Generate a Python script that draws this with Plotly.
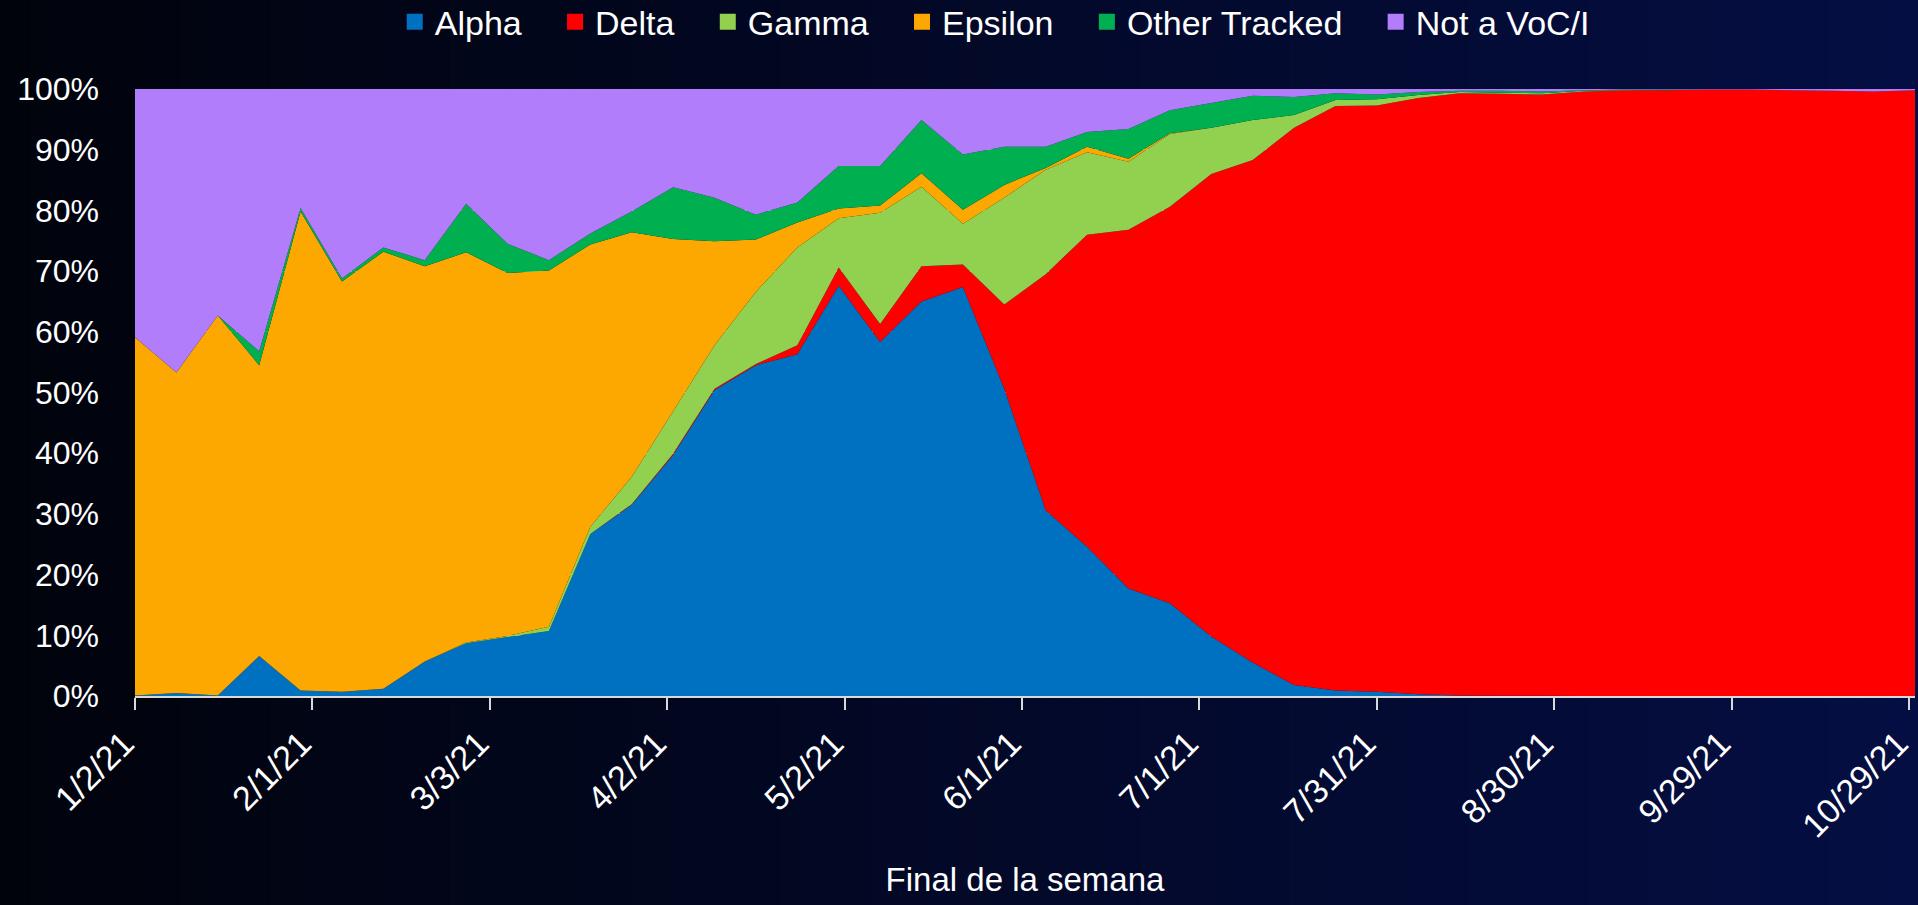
import plotly.graph_objects as go
import pandas as pd

# ---- data (percent of sequences, week ending) ----
weeks = ["2021-01-02", "2021-01-09", "2021-01-16", "2021-01-23", "2021-01-30",
         "2021-02-06", "2021-02-13", "2021-02-20", "2021-02-27", "2021-03-06",
         "2021-03-13", "2021-03-20", "2021-03-27", "2021-04-03", "2021-04-10",
         "2021-04-17", "2021-04-24", "2021-05-01", "2021-05-08", "2021-05-15",
         "2021-05-22", "2021-05-29", "2021-06-05", "2021-06-12", "2021-06-19",
         "2021-06-26", "2021-07-03", "2021-07-10", "2021-07-17", "2021-07-24",
         "2021-07-31", "2021-08-07", "2021-08-14", "2021-08-21", "2021-08-28",
         "2021-09-04", "2021-09-11", "2021-09-18", "2021-09-25", "2021-10-02",
         "2021-10-09", "2021-10-16", "2021-10-23", "2021-10-30"]

alpha = [0.1, 0.5, 0.1, 6.6, 0.9, 0.7, 1.2, 5.7, 8.7, 9.7,
         10.7, 26.7, 31.5, 39.7, 50.4, 54.5, 56.3, 67.6, 58.3, 65.0,
         67.4, 50.6, 30.6, 24.6, 17.7, 15.3, 9.8, 5.5, 1.8, 0.9,
         0.7, 0.3, 0.1, 0.05, 0.05, 0, 0, 0, 0, 0,
         0, 0, 0, 0]
delta = [0, 0, 0, 0, 0, 0, 0, 0, 0, 0,
         0, 0, 0.1, 0.2, 0.2, 0.2, 1.5, 3.0, 3.0, 5.8,
         3.7, 13.9, 38.9, 51.4, 59.1, 65.3, 76.2, 82.8, 91.8, 96.3,
         96.6, 98.2, 99.2, 99.15, 99.05, 99.6, 99.8, 99.8, 99.9, 99.9,
         99.8, 99.7, 99.6, 99.8]
gamma = [0, 0, 0, 0, 0, 0, 0, 0, 0.1, 0.2,
         0.7, 1.2, 4.5, 7.0, 7.2, 11.9, 16.1, 8.1, 18.3, 13.1,
         6.7, 17.6, 17.2, 13.6, 11.2, 12.0, 7.6, 6.6, 2.1, 1.0,
         1.0, 0.5, 0.2, 0.2, 0.2, 0.1, 0.05, 0, 0, 0,
         0, 0, 0, 0]
epsilon = [59.0, 52.8, 62.6, 47.9, 78.9, 67.6, 72.0, 65.1, 64.3, 59.8,
           58.7, 46.5, 40.3, 28.4, 17.1, 8.6, 4.1, 1.6, 1.2, 2.2,
           2.3, 2.1, 0.3, 0.9, 0.5, 0.1, 0, 0, 0, 0,
           0, 0, 0, 0, 0, 0, 0, 0, 0, 0,
           0, 0, 0, 0]
other_tracked = [0, 0, 0, 2.3, 0.6, 0.5, 0.7, 1.0, 8.0, 4.8,
                 1.7, 1.8, 3.4, 8.5, 7.2, 4.1, 3.3, 7.0, 6.5, 8.8,
                 9.1, 6.3, 3.5, 2.4, 4.9, 3.8, 4.1, 4.0, 3.0, 1.1,
                 0.8, 0.5, 0.2, 0.3, 0.3, 0.1, 0.05, 0.1, 0, 0,
                 0, 0, 0, 0]
not_voc = [40.9, 46.7, 37.3, 43.2, 19.6, 31.2, 26.1, 28.2, 18.9, 25.5,
           28.2, 23.8, 20.2, 16.2, 17.9, 20.7, 18.7, 12.7, 12.7, 5.1,
           10.8, 9.5, 9.5, 7.1, 6.6, 3.5, 2.3, 1.1, 1.3, 0.7,
           0.9, 0.5, 0.3, 0.3, 0.4, 0.2, 0.1, 0.1, 0.1, 0.1,
           0.2, 0.3, 0.4, 0.2]

series_names = ["Alpha", "Delta", "Gamma", "Epsilon", "Other Tracked", "Not a VoC/I"]
series_values = [alpha, delta, gamma, epsilon, other_tracked, not_voc]
series_colors = ["#0070C0", "#FF0000", "#92D050", "#FCA800", "#00B050", "#B27DFB"]

tick_labels = ["1/2/21", "2/1/21", "3/3/21", "4/2/21", "5/2/21", "6/1/21",
               "7/1/21", "7/31/21", "8/30/21", "9/29/21", "10/29/21"]
tick_vals = [pd.to_datetime(t, format="%m/%d/%y").strftime("%Y-%m-%d") for t in tick_labels]

FONT = "Liberation Sans, Arial, sans-serif"

fig = go.Figure()

for name, vals, col in zip(series_names, series_values, series_colors):
    fig.add_trace(go.Scatter(
        x=weeks, y=vals, name=name, stackgroup="one", groupnorm="percent",
        mode="none", fillcolor=col, line=dict(width=0), showlegend=False,
        hovertemplate=name + ": %{y:.1f}%<extra></extra>"))

# legend entries with square symbols (non-breaking spaces widen the gaps between items)
gap = "\u00a0" * 3
for i, (name, col) in enumerate(zip(series_names, series_colors)):
    label = name + (gap if i < len(series_names) - 1 else "")
    fig.add_trace(go.Scatter(
        x=[None], y=[None], mode="markers", name=label,
        marker=dict(symbol="square", size=20, color=col), showlegend=True,
        hoverinfo="skip"))

# background gradient (dark left -> navy right)
W, H = 1918, 905
L, R, T, B = 135, 3, 89, 209
pw, ph = W - L - R, H - T - B
n = 64
c0 = (1, 3, 12)
c1 = (4, 14, 66)
shapes = []
for i in range(n):
    f = i / (n - 1)
    col = "rgb(%d,%d,%d)" % tuple(round(a + (b - a) * f) for a, b in zip(c0, c1))
    x0 = (i * W / n - L) / pw
    x1 = ((i + 1) * W / n + 1 - L) / pw
    shapes.append(dict(type="rect", xref="paper", yref="paper",
                       x0=x0, x1=x1, y0=-B / ph - 0.05, y1=1 + T / ph + 0.05,
                       fillcolor=col, line=dict(width=0), layer="below"))

fig.update_layout(
    width=W, height=H,
    margin=dict(l=L, r=R, t=T, b=B, autoexpand=False),
    paper_bgcolor="rgb(2,8,36)",
    plot_bgcolor="rgba(0,0,0,0)",
    shapes=shapes,
    font=dict(family=FONT, color="white", size=32),
    showlegend=True,
    legend=dict(orientation="h", x=0.483, xanchor="center", y=1.11, yanchor="middle",
                traceorder="normal",
                font=dict(size=34, color="white", family=FONT),
                bgcolor="rgba(0,0,0,0)", itemclick=False, itemdoubleclick=False),
    hovermode="x unified",
)

fig.update_xaxes(
    type="date", range=["2021-01-02", "2021-10-30"],
    tickvals=tick_vals, ticktext=tick_labels, tickangle=-45,
    tickfont=dict(size=34, color="white", family=FONT),
    ticklabeloverflow="allow", ticklabelshift=-11,
    ticks="outside", ticklen=12, tickwidth=2, tickcolor="#D9D9D9",
    showline=True, linecolor="#D9D9D9", linewidth=2,
    showgrid=False, zeroline=False,
    title=dict(text="Final de la semana", font=dict(size=33, color="white", family=FONT),
               standoff=25),
    automargin=False,
)
fig.update_yaxes(
    range=[0, 100], tick0=0, dtick=10, ticksuffix="%",
    tickfont=dict(size=32, color="white", family=FONT),
    showgrid=True, gridcolor="#D9D9D9", gridwidth=1,
    zeroline=False, showline=False, ticks="",
    ticklabelstandoff=35, automargin=False,
)

fig.write_html("out.html",
               config={"displayModeBar": False},
               post_script="document.body.style.margin='0';document.body.style.overflow='hidden';")
